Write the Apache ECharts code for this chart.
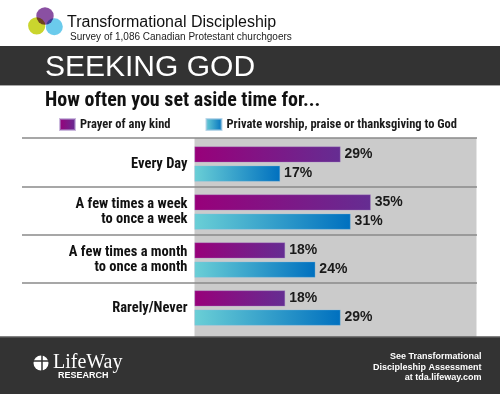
<!DOCTYPE html>
<html>
<head>
<meta charset="utf-8">
<script src="https://cdn.jsdelivr.net/npm/echarts@6/dist/echarts.min.js"></script>
<style>
html,body{margin:0;padding:0;background:#fff;}
#c{width:500px;height:394px;}
</style>
</head>
<body>
<div id="c"></div>
<script>
// ---- data ----
var categories = ['Every Day', 'A few times a week\nto once a week', 'A few times a month\nto once a month', 'Rarely/Never'];
var seriesNames = ['Prayer of any kind', 'Private worship, praise or thanksgiving to God'];
var prayer = [29, 35, 18, 18];
var worship = [17, 31, 24, 29];

var NARROW = '"Roboto Condensed", "Open Sans Condensed", "Liberation Sans Narrow", sans-serif';
var SANS = '"Liberation Sans", Arial, sans-serif';

var gridTop = 140, gridH = 192, gridLeft = 194.5, gridW = 282;
var band = gridH / categories.length;

var chart = echarts.init(document.getElementById('c'), null, {renderer: 'canvas'});

var purpleGrad = new echarts.graphic.LinearGradient(0, 0, 1, 0, [
  {offset: 0, color: '#98007a'}, {offset: 1, color: '#652d92'}
]);
var blueGrad = new echarts.graphic.LinearGradient(0, 0, 1, 0, [
  {offset: 0, color: '#6acfd6'}, {offset: 1, color: '#0070bf'}
]);

var graphics = [
  {type: 'rect', shape: {x: gridLeft, y: 138, width: gridW, height: 199}, style: {fill: '#cbcbcb'}, z: -10},
  {type: 'rect', shape: {x: 0, y: 46, width: 500, height: 39}, style: {fill: '#333333'}, z: -5},
  {type: 'line', shape: {x1: 0, y1: 85.5, x2: 500, y2: 85.5}, style: {stroke: '#a8a8a8', lineWidth: 1}, z: -5},
  {type: 'rect', shape: {x: 0, y: 336.5, width: 500, height: 58}, style: {fill: '#333333'}, z: -5},
  {type: 'line', shape: {x1: 0, y1: 337, x2: 500, y2: 337}, style: {stroke: '#6e6e6e', lineWidth: 1}, z: -4},
  {type: 'circle', shape: {cx: 36.7, cy: 25.8, r: 8.6}, style: {fill: '#cad52e'}, z: 1},
  {type: 'circle', shape: {cx: 54.3, cy: 26.7, r: 8.5}, style: {fill: '#5bc6ea', opacity: 0.9, blend: 'multiply'}, z: 2},
  {type: 'circle', shape: {cx: 45, cy: 16, r: 8.7}, style: {fill: '#7e3d98', opacity: 0.9, blend: 'multiply'}, z: 3},
  {type: 'text', x: 67, y: 22.5, style: {text: 'Transformational Discipleship', font: '16px ' + SANS, fill: '#111', verticalAlign: 'middle'}},
  {type: 'text', x: 70, y: 37, style: {text: 'Survey of 1,086 Canadian Protestant churchgoers', font: '10px ' + SANS, fill: '#222', verticalAlign: 'middle'}},
  {type: 'text', x: 45, y: 67.5, style: {text: 'SEEKING GOD', font: '30px ' + SANS, fill: '#ffffff', verticalAlign: 'middle'}},
  {type: 'text', x: 45, y: 101, style: {text: 'How often you set aside time for...', font: 'bold 20px ' + NARROW, fill: '#111', verticalAlign: 'middle'}},
  {type: 'circle', shape: {cx: 41, cy: 363, r: 7.5}, style: {fill: '#ffffff'}},
  {type: 'line', shape: {x1: 42, y1: 355, x2: 42, y2: 371}, style: {stroke: '#333', lineWidth: 1.5}},
  {type: 'line', shape: {x1: 33, y1: 361, x2: 49, y2: 361}, style: {stroke: '#333', lineWidth: 1.5}},
  {type: 'text', x: 53, y: 363, style: {text: 'LifeWay', font: '20px "Liberation Serif", "DejaVu Serif", serif', fill: '#ffffff', verticalAlign: 'middle'}},
  {type: 'text', x: 58, y: 375.5, style: {text: 'RESEARCH', font: 'bold 9px ' + SANS, fill: '#ffffff', verticalAlign: 'middle'}},
  {type: 'text', x: 481.5, y: 357, style: {text: 'See Transformational', font: 'bold 9px ' + SANS, fill: '#ffffff', align: 'right', verticalAlign: 'middle'}},
  {type: 'text', x: 481.5, y: 367.3, style: {text: 'Discipleship Assessment', font: 'bold 9px ' + SANS, fill: '#ffffff', align: 'right', verticalAlign: 'middle'}},
  {type: 'text', x: 481.5, y: 377.3, style: {text: 'at tda.lifeway.com', font: 'bold 9px ' + SANS, fill: '#ffffff', align: 'right', verticalAlign: 'middle'}}
];
var divY = [138];
for (var i = 1; i < categories.length; i++) divY.push(gridTop + i * band - 1);
divY.forEach(function (y) {
  graphics.push({type: 'line', shape: {x1: 22, y1: y, x2: 477, y2: y}, style: {stroke: '#8a8a8a', lineWidth: 1.3}, z: 5});
});

var option = {
  animation: false,
  backgroundColor: '#ffffff',
  graphic: graphics,
  legend: {
    left: 59, top: 118, width: 440, padding: 0,
    icon: 'rect', itemWidth: 15, itemHeight: 11, itemGap: 35,
    textStyle: {fontFamily: NARROW, fontWeight: 'bold', fontSize: 12.5, color: '#1a1a1a'},
    data: seriesNames
  },
  grid: {left: gridLeft, top: gridTop, width: gridW, height: gridH},
  xAxis: {type: 'value', min: 0, max: 56, show: false},
  yAxis: {
    type: 'category', data: categories, inverse: true,
    axisLine: {show: false}, axisTick: {show: false}, splitLine: {show: false},
    axisLabel: {
      margin: 7, color: '#111', fontFamily: NARROW, fontWeight: 'bold', fontSize: 14.5, lineHeight: 15
    }
  },
  series: [
    {
      name: seriesNames[0], type: 'bar', data: prayer, barWidth: 16, barGap: '20%',
      itemStyle: {color: purpleGrad, borderColor: 'rgba(170,140,200,0.6)', borderWidth: 0.6},
      label: {show: true, position: 'right', distance: 4, formatter: '{c}%', fontFamily: SANS, fontWeight: 'bold', fontSize: 14, color: '#1a1a1a'}
    },
    {
      name: seriesNames[1], type: 'bar', data: worship, barWidth: 16, barGap: '20%',
      itemStyle: {color: blueGrad, borderColor: 'rgba(140,190,220,0.6)', borderWidth: 0.6},
      label: {show: true, position: 'right', distance: 4, formatter: '{c}%', fontFamily: SANS, fontWeight: 'bold', fontSize: 14, color: '#1a1a1a'}
    }
  ]
};
chart.setOption(option);
</script>
</body>
</html>
